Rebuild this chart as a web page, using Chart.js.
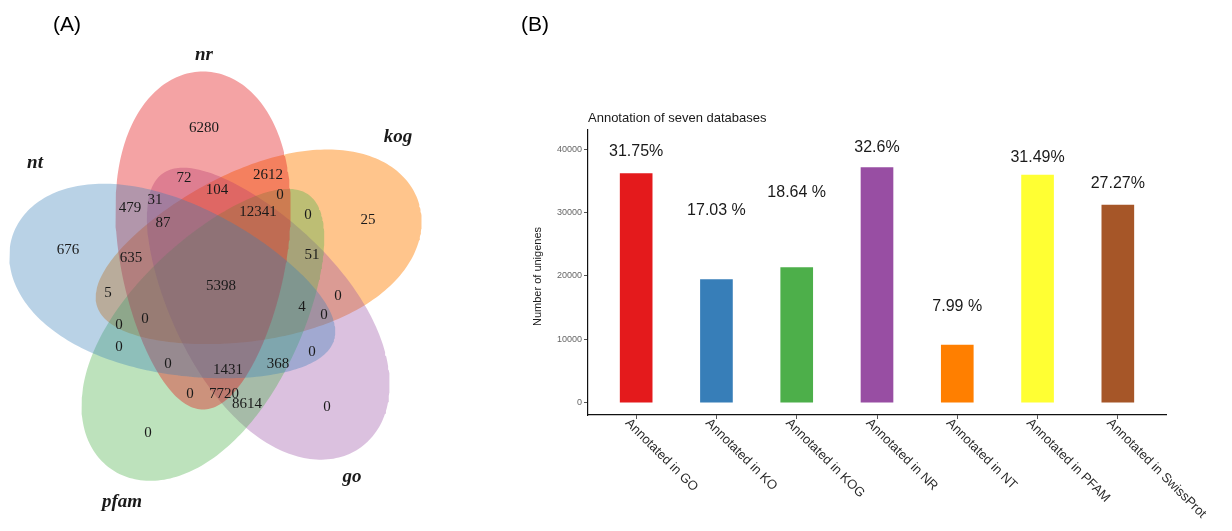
<!DOCTYPE html>
<html><head><meta charset="utf-8">
<script src="https://cdn.jsdelivr.net/npm/chart.js@4.4.1/dist/chart.umd.min.js"></script>
<style>
html,body{margin:0;padding:0;background:#fff;}
body{width:1232px;height:531px;position:relative;overflow:hidden;}
#venn{position:absolute;left:0;top:0;}
#bars{position:absolute;left:500px;top:0;}
</style></head><body>
<canvas id="venn" width="440" height="531"></canvas>
<canvas id="bars" width="732" height="531"></canvas>
<script>
// ---------- Panel (B) data ----------
const categories = ['Annotated in GO','Annotated in KO','Annotated in KOG','Annotated in NR','Annotated in NT','Annotated in PFAM','Annotated in SwissProt'];
const unigeneCounts = [36150, 19420, 21310, 37100, 9100, 35940, 31200];
const percentLabels = ['31.75%','17.03 %','18.64 %','32.6%','7.99 %','31.49%','27.27%'];
const percentLabelY = [39600, 30300, 33150, 40350, 15100, 38700, 34650];
const barColors = ['#E41A1C','#377EB8','#4DAF4A','#984EA3','#FF7F00','#FFFF33','#A65628'];
const yTickValues = [0, 10000, 20000, 30000, 40000];

// ---------- Panel (A) data ----------
// drawing order: nt, nr, pfam, go, kog
const setNames = ['nt','nr','pfam','go','kog'];
const setColors = ['rgba(55,126,184,0.35)','rgba(228,26,28,0.4)','rgba(77,175,74,0.37)','rgba(152,78,163,0.35)','rgba(255,127,0,0.45)'];
const setAxisAngle = [162, 90, -126, -54, 18];      // outward direction of each ellipse (deg)
const setOffsetAngle = [-176, 112, -104, -32, 40];  // direction of ellipse centre from diagram centre
const setNamePos = [[-1.86,1.22],[-0.17,2.30],[-0.99,-2.17],[1.31,-1.92],[1.77,1.48]];
const regionCounts = [6280,72,104,2612,0,479,31,87,12341,0,25,676,635,51,5,5398,4,0,0,0,0,0,0,1431,368,0,0,7720,8614,0,0];
const regionPos = [[-0.17,1.57],[-0.37,1.07],[-0.04,0.95],[0.47,1.10],[0.59,0.90],[-0.91,0.77],[-0.66,0.85],[-0.58,0.62],[0.37,0.73],[0.87,0.70],[1.47,0.65],[-1.53,0.35],[-0.90,0.27],[0.91,0.30],[-1.13,-0.08],[0.00,-0.01],[0.81,-0.22],[1.17,-0.11],[1.03,-0.30],[-1.02,-0.40],[-0.76,-0.34],[-1.02,-0.62],[-0.53,-0.79],[0.07,-0.85],[0.57,-0.79],[0.91,-0.67],[-0.31,-1.09],[0.03,-1.09],[0.26,-1.19],[1.06,-1.22],[-0.73,-1.48]];
const ellipseShape = {dist:0.48, a:1.69, b:0.86, egg:0.2};

function ellipsePoints(i){
  const th = setAxisAngle[i]*Math.PI/180, ph = setOffsetAngle[i]*Math.PI/180;
  const cx = ellipseShape.dist*Math.cos(ph), cy = ellipseShape.dist*Math.sin(ph);
  const ux = Math.cos(th), uy = Math.sin(th), vx = -uy, vy = ux;
  const pts = [];
  for (let k=0;k<=240;k++){
    const t = k/240*2*Math.PI;
    const p = ellipseShape.a*Math.cos(t);
    const q = ellipseShape.b*Math.sin(t)*(1+ellipseShape.egg*Math.cos(t));
    pts.push({x:cx+p*ux+q*vx, y:cy+p*uy+q*vy});
  }
  return pts;
}

const vennText = {
  id:'vennText',
  afterDatasetsDraw(chart){
    const {ctx, scales:{x,y}} = chart;
    ctx.save();
    ctx.textAlign='center'; ctx.textBaseline='middle';
    ctx.fillStyle='#1a1a1a';
    ctx.font='15px "Liberation Serif", serif';
    regionCounts.forEach((c,i)=>{
      ctx.fillText(String(c), x.getPixelForValue(regionPos[i][0]), y.getPixelForValue(regionPos[i][1]));
    });
    ctx.font='italic bold 19px "Liberation Serif", serif';
    setNames.forEach((n,i)=>{
      ctx.fillText(n, x.getPixelForValue(setNamePos[i][0]), y.getPixelForValue(setNamePos[i][1]));
    });
    ctx.font='21px "Liberation Sans", sans-serif';
    ctx.fillStyle='#000';
    ctx.fillText('(A)', 67, 25);
    ctx.restore();
  }
};

new Chart(document.getElementById('venn'), {
  type:'scatter',
  data:{datasets: setNames.map((n,i)=>({
    label:n, data: ellipsePoints(i), showLine:true, fill:'shape',
    backgroundColor:setColors[i], borderWidth:0, borderColor:'rgba(0,0,0,0)',
    pointRadius:0, tension:0
  }))},
  options:{
    responsive:false, animation:false, devicePixelRatio:1,
    layout:{padding:0},
    plugins:{legend:{display:false}, tooltip:{enabled:false}},
    scales:{
      x:{type:'linear', min:-2.21, max:2.19, display:false},
      y:{type:'linear', min:-2.46, max:2.85, display:false}
    }
  },
  plugins:[vennText]
});

const barText = {
  id:'barText',
  afterDraw(chart){
    const {ctx, scales:{x,y}, chartArea} = chart;
    ctx.save();
    ctx.fillStyle='#1a1a1a';
    ctx.font='16px "Liberation Sans", sans-serif';
    ctx.textAlign='center'; ctx.textBaseline='middle';
    percentLabels.forEach((t,i)=>{
      ctx.fillText(t, x.getPixelForValue(i), y.getPixelForValue(percentLabelY[i]));
    });
    ctx.textAlign='left';
    ctx.font='13px "Liberation Sans", sans-serif';
    ctx.fillText('Annotation of seven databases', chartArea.left, 118);
    ctx.save();
    ctx.translate(38, (chartArea.top+chartArea.bottom)/2+4);
    ctx.rotate(-Math.PI/2);
    ctx.textAlign='center';
    ctx.font='11px "Liberation Sans", sans-serif';
    ctx.fillText('Number of unigenes', 0, 0);
    ctx.restore();
    ctx.fillStyle='#2b2b2b';
    ctx.font='13px "Liberation Sans", sans-serif';
    categories.forEach((c,i)=>{
      ctx.save();
      ctx.translate(x.getPixelForValue(i)-9, chartArea.bottom+6);
      ctx.rotate(Math.PI/4);
      ctx.textAlign='left'; ctx.textBaseline='middle';
      ctx.fillText(c, 0, 0);
      ctx.restore();
    });
    ctx.fillStyle='#000';
    ctx.textAlign='center';
    ctx.font='21px "Liberation Sans", sans-serif';
    ctx.fillText('(B)', 35, 25);
    ctx.restore();
  }
};

new Chart(document.getElementById('bars'), {
  type:'bar',
  data:{datasets:[{
    data: unigeneCounts.map((v,i)=>({x:i, y:v})),
    backgroundColor: barColors, borderWidth:0, barThickness:32
  }]},
  options:{
    responsive:false, animation:false, devicePixelRatio:1,
    layout:{padding:{top:130, right:66, bottom:0, left:0}},
    plugins:{legend:{display:false}, tooltip:{enabled:false}},
    scales:{
      x:{type:'linear', min:-0.6, max:6.6, offset:false,
         afterBuildTicks(s){ s.ticks = categories.map((c,i)=>({value:i})); },
         ticks:{display:false},
         grid:{display:true, offset:false, drawOnChartArea:false, drawTicks:true, tickLength:4, color:'#555'},
         border:{display:true, color:'#111', width:1.2},
         afterFit(s){ s.height = 116; }},
      y:{type:'linear', min:-1950, max:43050,
         afterBuildTicks(s){ s.ticks = yTickValues.map(v=>({value:v})); },
         ticks:{color:'#666', padding:2,
                font:{size:9, family:'"Liberation Sans", sans-serif'}, callback:v=>String(v)},
         grid:{display:true, offset:false, drawOnChartArea:false, drawTicks:true, tickLength:4, color:'#555'},
         border:{display:true, color:'#111', width:1.2},
         afterFit(s){ s.width = 88; }}
    }
  },
  plugins:[barText]
});
</script>
</body></html>
